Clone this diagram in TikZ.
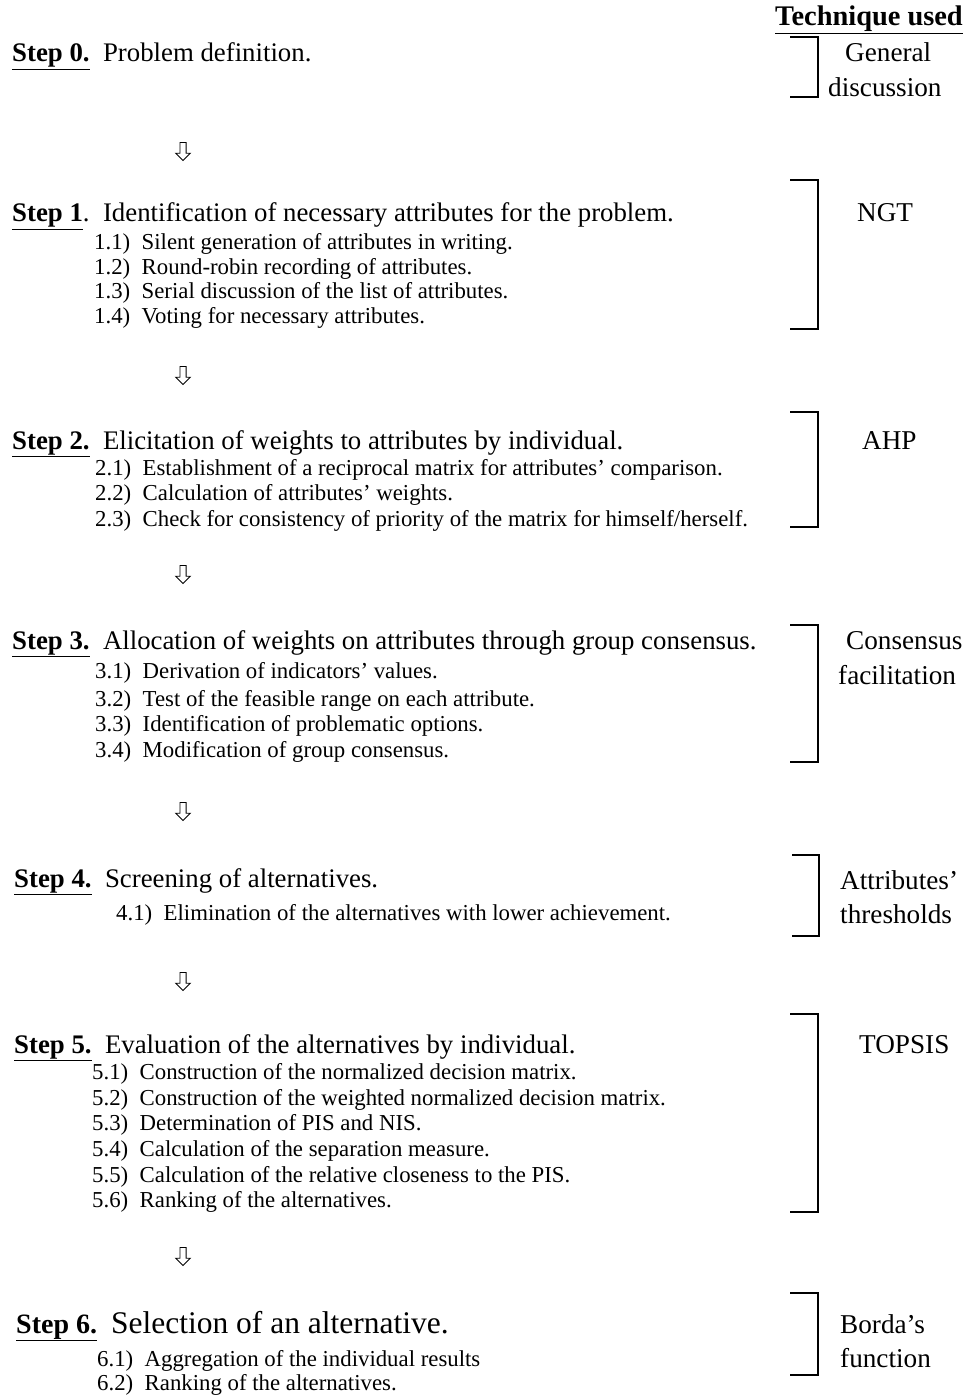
\documentclass[tikz,border=0pt]{standalone}
\usepackage{fontspec}
\setmainfont{Liberation Serif}
\usetikzlibrary{positioning,shapes.arrows}
\tikzset{
	steptext/.style={anchor=base west, inner sep=0pt, font=\fontsize{26.8}{30}\selectfont},
	subtext/.style={anchor=base west, inner sep=0pt, font=\fontsize{22.8}{25}\selectfont},
	techtext/.style={anchor=base west, inner sep=0pt, font=\fontsize{27.2}{30}\selectfont},
	downarrow/.style={single arrow, draw, line width=0.9pt, shape border rotate=270, inner sep=2.6pt,
		single arrow head extend=4.2pt, minimum height=18pt},
	techbracket/.style={line width=1.6pt},
}
\newcommand{\steplabel}[1]{\underline{\textbf{#1}}}

\begin{document}
\begin{tikzpicture}[x=1pt, y=-1pt]
	\useasboundingbox (0,0) rectangle (969,1399);

	\node[techtext, font=\fontsize{28.4}{30}\selectfont\bfseries] (head) at (775,26) {\underline{Technique used}};

	% step 0
	\node[steptext] (s0) at (12,62) {\steplabel{Step 0.}~~Problem definition.};
	\draw[techbracket] (790,37) -- (818,37) -- (818,97) -- (790,97);
	\node[techtext] (t0a) at (845,62) {General};
	\node[techtext] (t0b) at (828,97) {discussion};
	\node[downarrow] (a0) at (183,150) {};

	% step 1
	\node[steptext] (s1) at (12,222) {\steplabel{Step 1}.~~Identification of necessary attributes for the problem.};
	\node[subtext] (s11) at (94,249) {1.1)~~Silent generation of attributes in writing.};
	\node[subtext] (s12) at (94,274) {1.2)~~Round-robin recording of attributes.};
	\node[subtext] (s13) at (94,298) {1.3)~~Serial discussion of the list of attributes.};
	\node[subtext] (s14) at (94,323) {1.4)~~Voting for necessary attributes.};
	\draw[techbracket] (790,180) -- (818,180) -- (818,329) -- (790,329);
	\node[techtext] (t1) at (857,222) {NGT};
	\node[downarrow] (a1) at (183,374) {};

	% step 2
	\node[steptext] (s2) at (12,449) {\steplabel{Step 2.}~~Elicitation of weights to attributes by individual.};
	\node[subtext] (s21) at (95,475) {2.1)~~Establishment of a reciprocal matrix for attributes’ comparison.};
	\node[subtext] (s22) at (95,500) {2.2)~~Calculation of attributes’ weights.};
	\node[subtext] (s23) at (95,526) {2.3)~~Check for consistency of priority of the matrix for himself/herself.};
	\draw[techbracket] (790,412) -- (818,412) -- (818,527) -- (790,527);
	\node[techtext] (t2) at (862,449) {AHP};
	\node[downarrow] (a2) at (183,573) {};

	% step 3
	\node[steptext] (s3) at (12,649) {\steplabel{Step 3.}~~Allocation of weights on attributes through group consensus.};
	\node[subtext] (s31) at (95,678) {3.1)~~Derivation of indicators’ values.};
	\node[subtext] (s32) at (95,706) {3.2)~~Test of the feasible range on each attribute.};
	\node[subtext] (s33) at (95,731) {3.3)~~Identification of problematic options.};
	\node[subtext] (s34) at (95,757) {3.4)~~Modification of group consensus.};
	\draw[techbracket] (790,625) -- (818,625) -- (818,762) -- (790,762);
	\node[techtext] (t3a) at (846,649) {Consensus};
	\node[techtext] (t3b) at (838,684) {facilitation};
	\node[downarrow] (a3) at (183,810) {};

	% step 4
	\node[steptext] (s4) at (14,887) {\steplabel{Step 4.}~~Screening of alternatives.};
	\node[subtext] (s41) at (116,920) {4.1)~~Elimination of the alternatives with lower achievement.};
	\draw[techbracket] (792,855) -- (819,855) -- (819,936) -- (792,936);
	\node[techtext] (t4a) at (840,889) {Attributes’};
	\node[techtext] (t4b) at (840,923) {thresholds};
	\node[downarrow] (a4) at (183,980) {};

	% step 5
	\node[steptext] (s5) at (14,1053) {\steplabel{Step 5.}~~Evaluation of the alternatives by individual.};
	\node[subtext] (s51) at (92,1079) {5.1)~~Construction of the normalized decision matrix.};
	\node[subtext] (s52) at (92,1105) {5.2)~~Construction of the weighted normalized decision matrix.};
	\node[subtext] (s53) at (92,1130) {5.3)~~Determination of PIS and NIS.};
	\node[subtext] (s54) at (92,1156) {5.4)~~Calculation of the separation measure.};
	\node[subtext] (s55) at (92,1182) {5.5)~~Calculation of the relative closeness to the PIS.};
	\node[subtext] (s56) at (92,1207) {5.6)~~Ranking of the alternatives.};
	\draw[techbracket] (790,1014) -- (818,1014) -- (818,1212) -- (790,1212);
	\node[techtext] (t5) at (859,1053) {TOPSIS};
	\node[downarrow] (a5) at (183,1255) {};

	% step 6
	\node[steptext, font=\fontsize{28}{31}\selectfont] (s6) at (16,1333) {\steplabel{Step 6.}~~{\fontsize{31.5}{33}\selectfont Selection of an alternative.}};
	\node[subtext] (s61) at (97,1366) {6.1)~~Aggregation of the individual results};
	\node[subtext] (s62) at (97,1390) {6.2)~~Ranking of the alternatives.};
	\draw[techbracket] (790,1293) -- (818,1293) -- (818,1375) -- (790,1375);
	\node[techtext] (t6a) at (840,1333) {Borda’s};
	\node[techtext] (t6b) at (840,1367) {function};
\end{tikzpicture}
\end{document}
